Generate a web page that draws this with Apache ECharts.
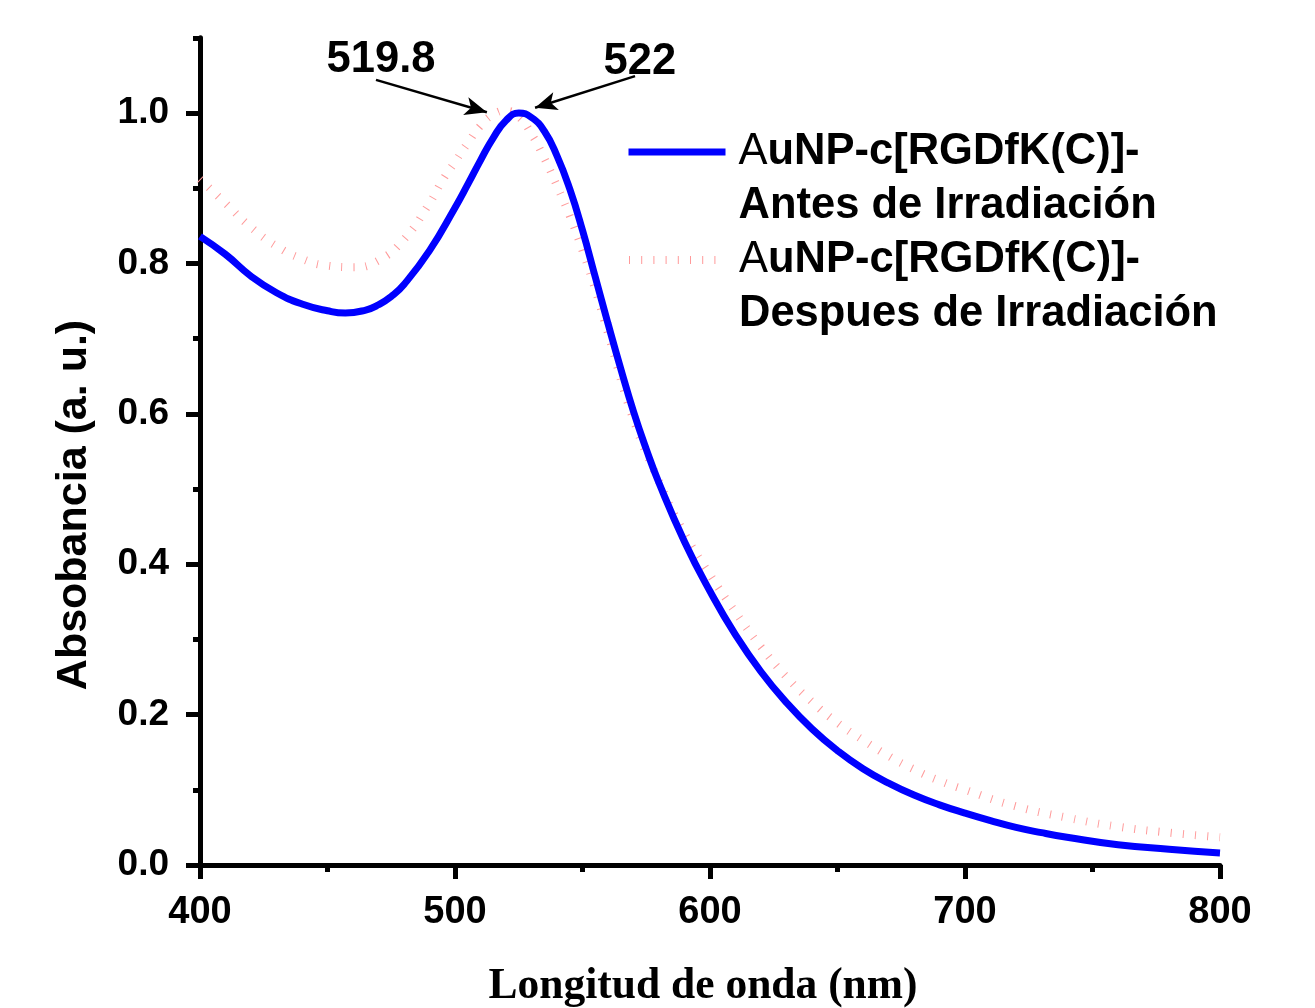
<!DOCTYPE html>
<html>
<head>
<meta charset="utf-8">
<script src="https://cdn.jsdelivr.net/npm/echarts@6/dist/echarts.min.js"></script>
<style>
  html, body { margin: 0; padding: 0; background: #fff; }
  #chart { width: 1315px; height: 1008px; }
</style>
</head>
<body>
<div id="chart"></div>
<script>
// wavelength (nm) and absorbance
const antesX = [400, 410, 420, 430, 440, 450, 457, 465, 470, 475, 480, 490, 500, 505, 510, 515, 520, 525, 530, 535, 540, 545, 550, 555, 560, 565, 570, 575, 580, 590, 600, 610, 620, 630, 640, 650, 660, 670, 680, 690, 700, 710, 720, 730, 740, 760, 780, 800];
const antesY = [0.836, 0.812, 0.783, 0.761, 0.746, 0.737, 0.734, 0.738, 0.745, 0.756, 0.772, 0.817, 0.874, 0.905, 0.937, 0.967, 0.990, 1.000, 0.994, 0.976, 0.943, 0.899, 0.844, 0.782, 0.720, 0.660, 0.603, 0.553, 0.508, 0.430, 0.364, 0.306, 0.257, 0.216, 0.181, 0.152, 0.128, 0.109, 0.093, 0.080, 0.069, 0.059, 0.050, 0.043, 0.037, 0.027, 0.021, 0.016];

const despuesX = [400, 410, 420, 430, 440, 450, 460, 470, 480, 490, 495, 500, 505, 510, 515, 520, 525, 530, 535, 540, 545, 550, 555, 560, 570, 580, 590, 600, 610, 620, 630, 640, 650, 660, 670, 680, 690, 700, 720, 740, 760, 780, 800];
const despuesY = [0.912, 0.880, 0.848, 0.823, 0.806, 0.797, 0.795, 0.804, 0.832, 0.880, 0.910, 0.935, 0.960, 0.983, 0.998, 1.003, 0.995, 0.972, 0.940, 0.903, 0.863, 0.817, 0.765, 0.707, 0.592, 0.510, 0.441, 0.386, 0.336, 0.290, 0.250, 0.217, 0.189, 0.166, 0.145, 0.127, 0.112, 0.100, 0.078, 0.063, 0.051, 0.043, 0.037];

const seriesNames = ['Antes de Irradiación', 'Despues de Irradiación'];
const peakLabels = ['519.8', '522'];

const pairs = (xs, ys) => xs.map((x, i) => [x, ys[i]]);

const sans = '"Liberation Sans", Arial, sans-serif';
const serif = '"Liberation Serif", "Times New Roman", serif';
const blue = '#0000ff';
const pink = '#ff9a9a';

const legendText = () => ({
  fontFamily: sans,
  fontSize: 43.5,
  lineHeight: 54,
  fontWeight: 'bold',
  color: '#000',
  rich: {
    s: {fontSize: 43.5, lineHeight: 54},
    a: {fontFamily: sans, fontSize: 43.5, lineHeight: 54, fontWeight: 'normal', color: '#000', padding: [0, 0, 0, 8]},
    b: {fontFamily: sans, fontSize: 43.5, lineHeight: 54, fontWeight: 'bold', color: '#000'},
    c: {fontFamily: sans, fontSize: 43.5, lineHeight: 54, fontWeight: 'bold', color: '#000', padding: [0, 0, 0, 8]}
  }
});
const legendFormatter = (name) => '{s| }\n{a|A}{b|uNP-c[RGDfK(C)]-}\n{c|' + name + '}';
const noDot = {color: 'rgba(0,0,0,0)', borderColor: 'rgba(0,0,0,0)', borderWidth: 0};

const chart = echarts.init(document.getElementById('chart'));

const option = {
  backgroundColor: '#fff',
  animation: false,
  grid: [
    {left: 200, right: 95, top: 37.8, bottom: 143, outerBoundsMode: 'none'},
    {left: 200, right: 95, top: 113, bottom: 143, outerBoundsMode: 'none'}
  ],
  legend: [
    {
      data: [seriesNames[0]], orient: 'vertical', left: 625, top: 71, padding: 0,
      itemWidth: 97, itemHeight: 14, selectedMode: false,
      itemStyle: noDot,
      lineStyle: {color: blue, width: 7},
      textStyle: legendText(), formatter: legendFormatter
    },
    {
      data: [seriesNames[1]], orient: 'vertical', left: 625, top: 179, padding: 0,
      itemWidth: 97, itemHeight: 14, selectedMode: false,
      itemStyle: noDot,
      lineStyle: {color: pink, width: 8, type: [1, 11.2], cap: 'butt'},
      textStyle: legendText(), formatter: legendFormatter
    }
  ],
  xAxis: [
    {
      type: 'value', gridIndex: 0, min: 400, max: 800, interval: 100,
      name: 'Longitud de onda (nm)', nameLocation: 'middle', nameGap: 100,
      nameTextStyle: {fontFamily: serif, fontSize: 43.5, fontWeight: 'bold', color: '#000', padding: [0, 14, 0, 0]},
      axisLine: {show: true, onZero: false, lineStyle: {color: '#000', width: 5}},
      axisTick: {show: true, length: 14, lineStyle: {color: '#000', width: 5}},
      minorTick: {show: true, splitNumber: 2, length: 7, lineStyle: {color: '#000', width: 5}},
      axisLabel: {fontFamily: sans, fontSize: 38, fontWeight: 'bold', color: '#000', margin: 29},
      splitLine: {show: false}
    },
    {
      type: 'value', gridIndex: 1, min: 400, max: 800, show: false
    }
  ],
  yAxis: [
    {
      type: 'value', gridIndex: 0, min: 0, max: 1.1, interval: 0.1,
      axisLine: {show: true, lineStyle: {color: '#000', width: 5}},
      axisTick: {show: true, length: 7, lineStyle: {color: '#000', width: 5}},
      axisLabel: {show: false},
      splitLine: {show: false}
    },
    {
      type: 'value', gridIndex: 1, min: 0, max: 1, interval: 0.2,
      name: 'Absobancia (a. u.)', nameLocation: 'middle', nameGap: 104,
      nameTextStyle: {fontFamily: sans, fontSize: 43, fontWeight: 'bold', color: '#000', padding: [0, 32, 0, 0]},
      axisLine: {show: false},
      axisTick: {show: true, length: 14, lineStyle: {color: '#000', width: 5}},
      axisLabel: {
        fontFamily: sans, fontSize: 37, fontWeight: 'bold', color: '#000', margin: 31,
        formatter: (v) => v.toFixed(1)
      },
      splitLine: {show: false}
    }
  ],
  series: [
    {
      name: seriesNames[0],
      type: 'line',
      xAxisIndex: 0, yAxisIndex: 0,
      data: pairs(antesX, antesY),
      smooth: true,
      symbol: 'none',
      z: 3,
      lineStyle: {color: blue, width: 7},
      itemStyle: {color: blue},
      markLine: {
        silent: true,
        symbol: ['none', 'arrow'],
        symbolSize: [14, 22],
        label: {show: false},
        lineStyle: {color: '#000', width: 2.5, type: 'solid'},
        data: [
          [{coord: [469, 1.044]}, {coord: [512.5, 1.001]}],
          [{coord: [570.6, 1.049]}, {coord: [531.4, 1.007]}]
        ]
      },
      markPoint: {
        silent: true,
        symbol: 'circle',
        symbolSize: 0,
        label: {
          show: true, fontFamily: sans, fontSize: 43.5, fontWeight: 'bold', color: '#000',
          formatter: (p) => p.name
        },
        data: [
          {name: peakLabels[0], coord: [471, 1.071]},
          {name: peakLabels[1], coord: [572.5, 1.068]}
        ]
      }
    },
    {
      name: seriesNames[1],
      type: 'line',
      xAxisIndex: 0, yAxisIndex: 0,
      data: pairs(despuesX, despuesY),
      smooth: true,
      symbol: 'none',
      z: 2,
      lineStyle: {color: pink, width: 8, type: [1, 11.2], cap: 'butt'},
      itemStyle: {color: pink}
    }
  ]
};

chart.setOption(option);
</script>
</body>
</html>
